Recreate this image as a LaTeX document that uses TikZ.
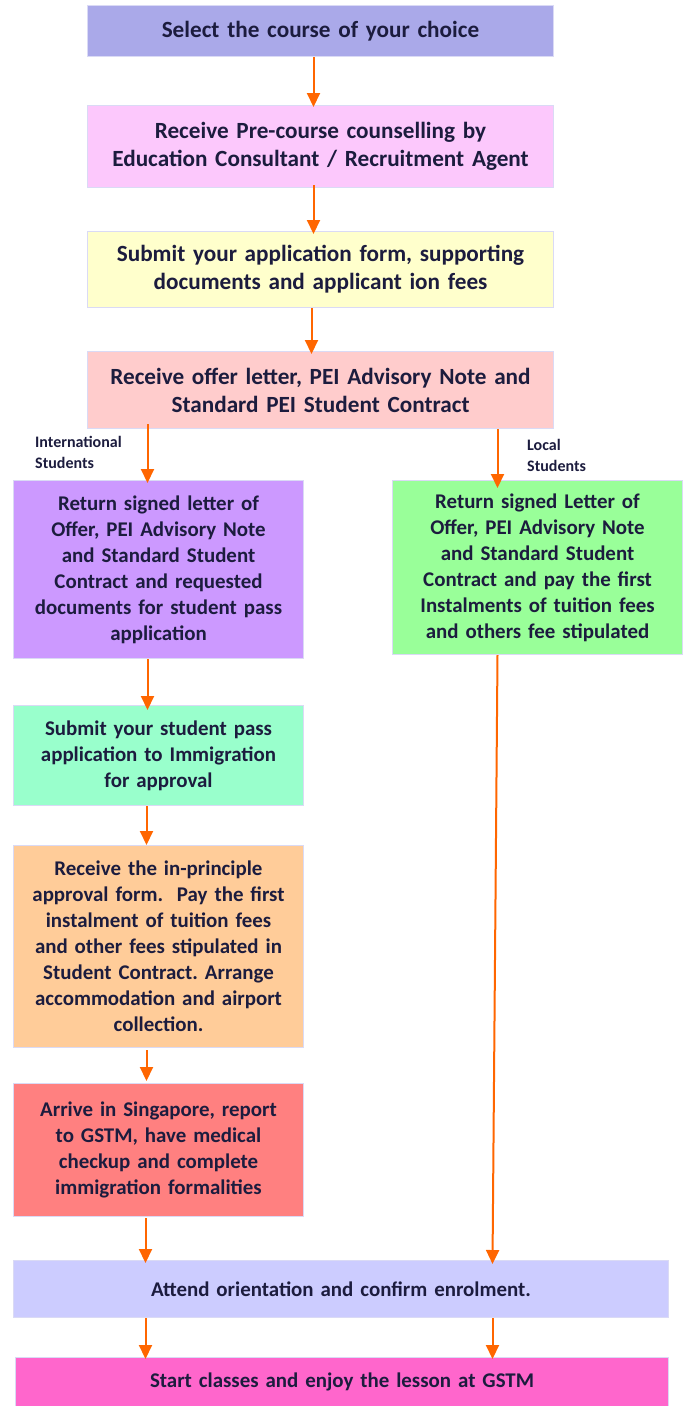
\documentclass[tikz,border=0pt]{standalone}
\usepackage{fontspec}
\setmainfont{Carlito}
\usepackage{tikz}
\usetikzlibrary{arrows.meta}
\frenchspacing
\definecolor{navytext}{RGB}{28,28,62}
\definecolor{paleedge}{RGB}{218,218,245}
\definecolor{flowarrow}{RGB}{255,102,0}
\definecolor{selectfill}{RGB}{170,169,233}
\definecolor{counselfill}{RGB}{252,200,252}
\definecolor{applyfill}{RGB}{255,255,204}
\definecolor{offerfill}{RGB}{255,204,204}
\definecolor{intlfill}{RGB}{204,153,255}
\definecolor{localfill}{RGB}{153,255,153}
\definecolor{passfill}{RGB}{153,255,204}
\definecolor{inprinfill}{RGB}{255,204,153}
\definecolor{arrivefill}{RGB}{255,128,128}
\definecolor{attendfill}{RGB}{204,204,255}
\definecolor{startfill}{RGB}{255,102,204}
\begin{document}
\begin{tikzpicture}[x=1pt,y=-1pt]
 \tikzset{flow box/.style={
    draw=paleedge, line width=1pt,
    fill=#1,
    anchor=north west,
    align=center,
    inner sep=0pt,
    text=navytext,
    font=\bfseries\fontsize{20.9}{26}\selectfont
  },
  flow box/.default=white,
  wide box/.style={
    flow box=#1,
    font=\bfseries\fontsize{23.2}{28}\selectfont
  },
  side label/.style={
    anchor=north west, align=left, inner sep=0pt,
    text=navytext,
    font=\bfseries\fontsize{16}{21}\selectfont
  },
  flow arrow/.style={
    draw=flowarrow, line width=2pt,
    -{Triangle[width=13pt,length=14pt]}
  }
}
\useasboundingbox (0,0) rectangle (684,1406);
\node[wide box=selectfill, text width=466pt, minimum height=51pt] (select) at (87,5)
  {Select the course of your choice};
\node[wide box=counselfill, text width=466pt, minimum height=82pt] (counsel) at (87,105)
  {Receive Pre-course counselling by\\Education Consultant / Recruitment Agent};
\node[wide box=applyfill, text width=466pt, minimum height=76pt] (apply) at (87,231)
  {Submit your application form, supporting\\documents and applicant ion fees};
\node[wide box=offerfill, text width=466pt, minimum height=77pt] (offer) at (87,351)
  {Receive offer letter, PEI Advisory Note and\\Standard PEI Student Contract};
\node[flow box=intlfill, text width=290pt, minimum height=178pt] (intl) at (13,480)
  {Return signed letter of\\Offer, PEI Advisory Note\\and Standard Student\\Contract and requested\\documents for student pass\\application};
\node[flow box=localfill, text width=290pt, minimum height=174pt] (local) at (392,480)
  {Return signed Letter of\\Offer, PEI Advisory Note\\and Standard Student\\Contract and pay the first\\Instalments of tuition fees\\and others fee stipulated};
\node[flow box=passfill, text width=290pt, minimum height=100pt] (pass) at (13,705)
  {Submit your student pass\\application to Immigration\\for approval};
\node[flow box=inprinfill, text width=290pt, minimum height=202pt] (inprin) at (13,845)
  {Receive the in-principle\\approval form.\ \ Pay the first\\instalment of tuition fees\\and other fees stipulated in\\Student Contract. Arrange\\accommodation and airport\\collection.};
\node[flow box=arrivefill, text width=290pt, minimum height=133pt] (arrive) at (13,1083)
  {Arrive in Singapore, report\\to GSTM, have medical\\checkup and complete\\immigration formalities};
\node[flow box=attendfill, text width=655pt, minimum height=57pt] (attend) at (13,1260)
  {Attend orientation and confirm enrolment.};
\node[flow box=startfill, text width=653pt, minimum height=49pt] (start) at (15,1357)
  {Start classes and enjoy the lesson at GSTM};
\node[side label] (intllabel) at (35,436) {International\\Students};
\node[side label] (locallabel) at (527,439) {Local\\Students};
% connectors
\draw[flow arrow] ([xshift=-7pt]select.south) -- ([xshift=-7pt,yshift=-2pt]counsel.north);
\draw[flow arrow] ([xshift=-7pt,yshift=3pt]counsel.south) -- ([xshift=-7pt,yshift=-3pt]apply.north);
\draw[flow arrow] ([xshift=-9pt]apply.south) -- ([xshift=-9pt,yshift=-3pt]offer.north);
\draw[flow arrow] ([xshift=-11pt,yshift=5pt]intl.north |- offer.south) -- ([xshift=-11pt,yshift=-3pt]intl.north);
\draw[flow arrow] ([xshift=-40pt]local.north |- offer.south) -- ([xshift=-40pt,yshift=-8pt]local.north);
\draw[flow arrow] ([xshift=-11pt]intl.south) -- ([xshift=-11pt,yshift=-5pt]pass.north);
\draw[flow arrow] ([xshift=-12pt]pass.south) -- ([xshift=-12pt]inprin.north);
\draw[flow arrow] ([xshift=-12pt,yshift=-2pt]inprin.south) -- ([xshift=-12pt,yshift=2pt]arrive.north);
\draw[flow arrow] ([xshift=-13pt,yshift=-1pt]arrive.south) -- ([xshift=-13pt,yshift=-3pt]arrive.south |- attend.north);
\draw[flow arrow] ([xshift=-40pt]local.south) -- ([xshift=-45pt,yshift=-4pt]local.south |- attend.north);
\draw[flow arrow] ([xshift=-13pt]arrive.south |- attend.south) -- ([xshift=-13pt,yshift=-2pt]arrive.south |- start.north);
\draw[flow arrow] ([xshift=-45pt]local.south |- attend.south) -- ([xshift=-45pt,yshift=-2pt]local.south |- start.north);
\end{tikzpicture}
\end{document}
